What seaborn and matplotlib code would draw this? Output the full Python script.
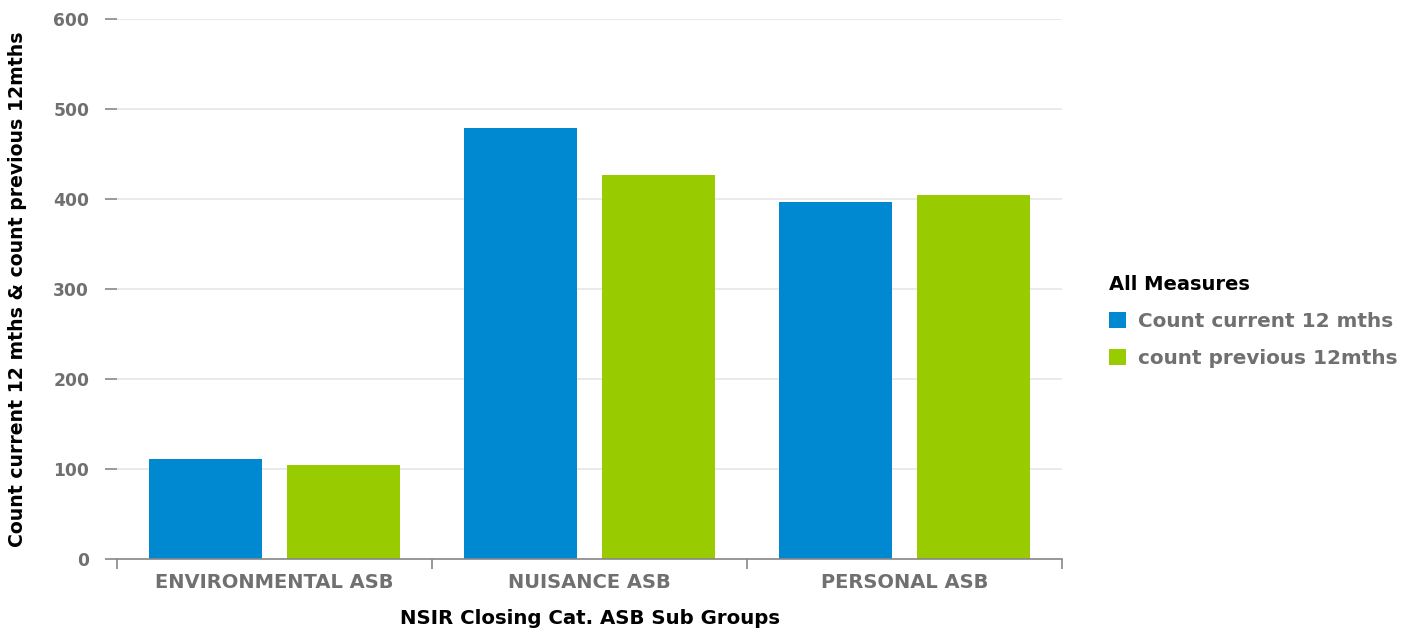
import matplotlib
matplotlib.use("Agg")
import matplotlib.pyplot as plt
import seaborn as sns
import pandas as pd
from matplotlib.patches import Patch

categories = ["ENVIRONMENTAL ASB", "NUISANCE ASB", "PERSONAL ASB"]
series_names = ["Count current 12 mths", "count previous 12mths"]
current_vals = [111, 479, 397]
previous_vals = [104, 427, 405]
colors = ["#0088D1", "#99CC00"]

df = pd.DataFrame({
    "cat": categories * 2,
    "measure": [series_names[0]] * 3 + [series_names[1]] * 3,
    "value": current_vals + previous_vals,
})

sns.set_theme(style="white")
plt.rcParams["font.family"] = ["DejaVu Sans"]

fig = plt.figure(figsize=(14.03, 6.32), dpi=100)
ax = fig.add_axes([117/1403, 1 - 559/632, (1062-117)/1403, (559-19)/632])

sns.barplot(data=df, x="cat", y="value", hue="measure", palette=colors,
            width=0.873, gap=0.178, saturation=1, ax=ax, legend=False,
            edgecolor="none")

ax.set_ylim(0, 600)
ax.set_xlim(-0.5, 2.5)
ax.set_yticks(range(0, 601, 100))
ax.yaxis.grid(True, color="#e6e6e6", linewidth=1.2)
ax.set_axisbelow(True)
for s in ["top", "right", "left"]:
    ax.spines[s].set_visible(False)
ax.spines["bottom"].set_color("#888888")
ax.spines["bottom"].set_linewidth(1.2)

ax.tick_params(axis="y", left=True, length=9, width=1.2, color="#888888", pad=11,
               labelsize=12.3, labelcolor="#707070", direction="out")
for t in ax.get_yticklabels():
    t.set_fontweight("bold")
ax.set_xticks(range(len(categories)))
ax.set_xticklabels(categories, fontsize=14, fontweight="bold", color="#707070")
ax.tick_params(axis="x", bottom=False, pad=4)
ax.set_xticks([-0.5, 0.5, 1.5, 2.5], minor=True)
ax.tick_params(axis="x", which="minor", bottom=True, length=7, width=1.2, color="#888888", direction="out")

ax.set_xlabel("NSIR Closing Cat. ASB Sub Groups", fontsize=14.2, fontweight="bold",
              color="black", labelpad=12)
ax.set_ylabel("Count current 12 mths & count previous 12mths", fontsize=13.6,
              fontweight="bold", color="black")
ax.yaxis.set_label_coords(-(117 - 27) / 945, 0.5)

handles = [Patch(facecolor=c, edgecolor="none") for c in colors]
leg = fig.legend(handles, series_names, title="All Measures", loc="upper left",
                 bbox_to_anchor=(1091/1403, 1 - 257/632), frameon=False,
                 prop={"weight": "bold", "size": 14.4}, title_fontproperties={"weight": "bold", "size": 14},
                 handlelength=0.85, handleheight=0.85, handletextpad=0.6, labelspacing=0.9,
                 alignment="left")
leg.get_title().set_color("black")
for t in leg.get_texts():
    t.set_color("#707070")

fig.savefig("out.png", dpi=100)
